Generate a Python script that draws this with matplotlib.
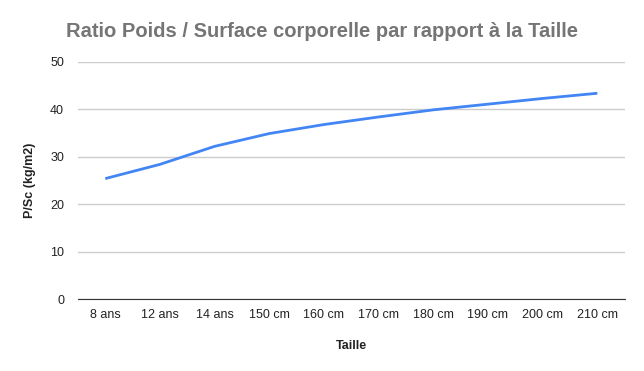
import matplotlib
matplotlib.use("Agg")
import matplotlib.pyplot as plt

# Ratio poids / surface corporelle selon la taille
tailles = ["8 ans", "12 ans", "14 ans", "150 cm", "160 cm", "170 cm",
           "180 cm", "190 cm", "200 cm", "210 cm"]
ratio = [25.4, 28.4, 32.2, 34.9, 36.8, 38.4, 39.9, 41.1, 42.3, 43.4]

plt.rcParams['font.family'] = ['Liberation Sans', 'DejaVu Sans']

fig = plt.figure(figsize=(6.44, 3.71), dpi=100)
ax = fig.add_axes([0.121, 0.194, 0.849, 0.639])

x = list(range(len(tailles)))
ax.plot(x, ratio, color='#4285F4', linewidth=2, solid_capstyle='butt')

ax.set_xlim(-0.5, len(tailles) - 0.5)
ax.set_ylim(0, 50)
ax.set_yticks([0, 10, 20, 30, 40, 50])
ax.set_xticks(x)
ax.set_xticklabels(tailles)

ax.grid(axis='y', color='#cccccc', linewidth=1)
ax.set_axisbelow(True)
for s in ['top', 'right', 'left']:
    ax.spines[s].set_visible(False)
ax.spines['bottom'].set_color('#333333')
ax.tick_params(axis='both', length=0, labelsize=9, colors='#222222')
ax.tick_params(axis='x', pad=7)
ax.tick_params(axis='y', pad=10)

fig.text(0.5, 0.915, "Ratio Poids / Surface corporelle par rapport à la Taille",
         ha='center', va='center', fontsize=14.5, fontweight='bold', color='#757575')
ax.set_xlabel("Taille", fontsize=9, fontweight='bold', color='#222222', labelpad=14)
ax.set_ylabel("P/Sc (kg/m2)", fontsize=9, fontweight='bold', color='#222222', labelpad=10)

fig.savefig("out.png", dpi=100)
